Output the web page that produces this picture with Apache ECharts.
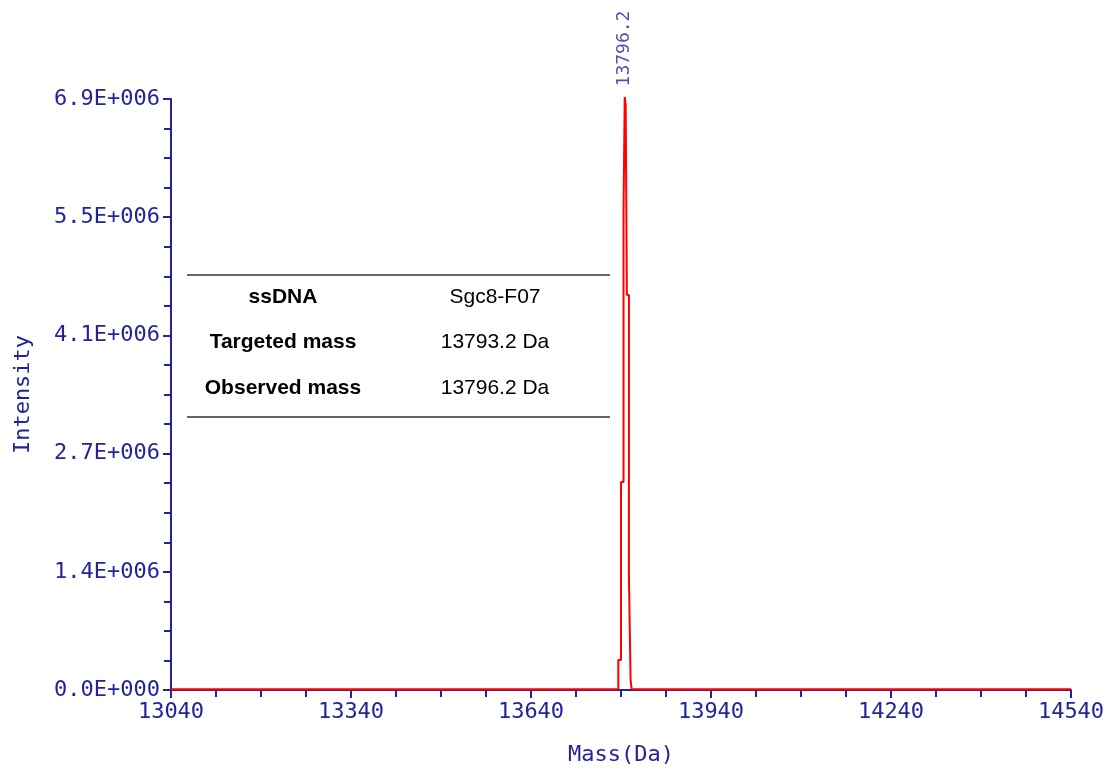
<!DOCTYPE html>
<html>
<head>
<meta charset="utf-8">
<script src="https://cdn.jsdelivr.net/npm/echarts@6/dist/echarts.min.js"></script>
<style>
  html, body { margin: 0; padding: 0; background: #fff; }
  #chart { width: 1112px; height: 770px; }
</style>
</head>
<body>
<div id="chart"></div>
<script>
// spectrum (step trace), mass in Da, intensity in counts
var massDa = [13040, 13785.5, 13790.0, 13794.2, 13796.2, 13797.8, 13799.8, 13803.2, 13806.0, 13807.7, 14540];
var intensity = [10000, 348000, 2414000, 5537000, 6884000, 6791000, 4585000, 1335000, 116000, 10000, 10000];
var peakMass = 13796.2;
var peakIntensity = 6884000;

// summary table
var tableRows = [
  ['ssDNA', 'Sgc8-F07'],
  ['Targeted mass', '13793.2 Da'],
  ['Observed mass', '13796.2 Da']
];

var blue = '#23239b';
var mono = '"DejaVu Sans Mono", monospace';

function sci(v) {
  if (v === 0) return '0.0E+000';
  var e = Math.floor(Math.log10(v));
  var m = v / Math.pow(10, e);
  var es = String(e);
  while (es.length < 3) es = '0' + es;
  return m.toFixed(1) + 'E+' + es;
}

var seriesData = massDa.map(function (x, i) { return [x, intensity[i]]; });

var graphics = [];
var rowY = [297, 342, 388];
graphics.push({ type: 'line', shape: { x1: 187, y1: 275, x2: 610, y2: 275 }, style: { stroke: '#333', lineWidth: 1.5 } });
graphics.push({ type: 'line', shape: { x1: 187, y1: 417, x2: 610, y2: 417 }, style: { stroke: '#333', lineWidth: 1.5 } });
tableRows.forEach(function (r, i) {
  graphics.push({ type: 'text', x: 283, y: rowY[i], style: { text: r[0], fill: '#000', font: 'bold 21px "Liberation Sans", Arial, sans-serif', textAlign: 'center', textVerticalAlign: 'middle' } });
  graphics.push({ type: 'text', x: 495, y: rowY[i], style: { text: r[1], fill: '#000', font: '21px "Liberation Sans", Arial, sans-serif', textAlign: 'center', textVerticalAlign: 'middle' } });
});

var chart = echarts.init(document.getElementById('chart'), null, { renderer: 'canvas' });
chart.setOption({
  animation: false,
  backgroundColor: '#fff',
  grid: { left: 171, right: 41, top: 99, bottom: 80, outerBoundsMode: 'none' },
  xAxis: {
    type: 'value', min: 13040, max: 14540, interval: 300,
    name: 'Mass(Da)', nameLocation: 'middle', nameGap: 54,
    nameTextStyle: { color: blue, fontFamily: mono, fontSize: 22 },
    axisLine: { show: true, lineStyle: { color: blue, width: 2 } },
    axisTick: { show: true, length: 8, lineStyle: { color: blue, width: 2 } },
    minorTick: { show: true, splitNumber: 4, length: 7, lineStyle: { color: blue, width: 2 } },
    axisLabel: { color: blue, fontFamily: mono, fontSize: 22, margin: 11, showMinLabel: true, showMaxLabel: true, formatter: function (v) { return String(v); } },
    splitLine: { show: false }
  },
  yAxis: {
    type: 'value', min: 0, max: 6860000, interval: 1372000,
    name: 'Intensity', nameLocation: 'middle', nameGap: 137,
    nameTextStyle: { color: blue, fontFamily: mono, fontSize: 22 },
    axisLine: { show: true, lineStyle: { color: blue, width: 2 } },
    axisTick: { show: true, length: 8, lineStyle: { color: blue, width: 2 } },
    minorTick: { show: true, splitNumber: 4, length: 7, lineStyle: { color: blue, width: 2 } },
    axisLabel: { color: blue, fontFamily: mono, fontSize: 22, margin: 11, formatter: sci },
    splitLine: { show: false }
  },
  series: [{
    type: 'line', step: 'end', data: seriesData, clip: false,
    showSymbol: false, symbol: 'none',
    lineStyle: { color: '#ff0000', width: 2 },
    z: 5
  }, {
    // peak annotation
    type: 'scatter', data: [[peakMass, peakIntensity]], clip: false,
    symbol: 'circle', symbolSize: 1, silent: true,
    itemStyle: { color: 'rgba(0,0,0,0)' },
    z: 6,
    label: {
      show: true, position: 'top', distance: 10, rotate: 90,
      align: 'left', verticalAlign: 'middle', offset: [1, 0],
      formatter: String(peakMass), color: blue, fontFamily: mono, fontSize: 18
    },
    labelLayout: { hideOverlap: false }
  }],
  graphic: graphics
});
</script>
</body>
</html>
